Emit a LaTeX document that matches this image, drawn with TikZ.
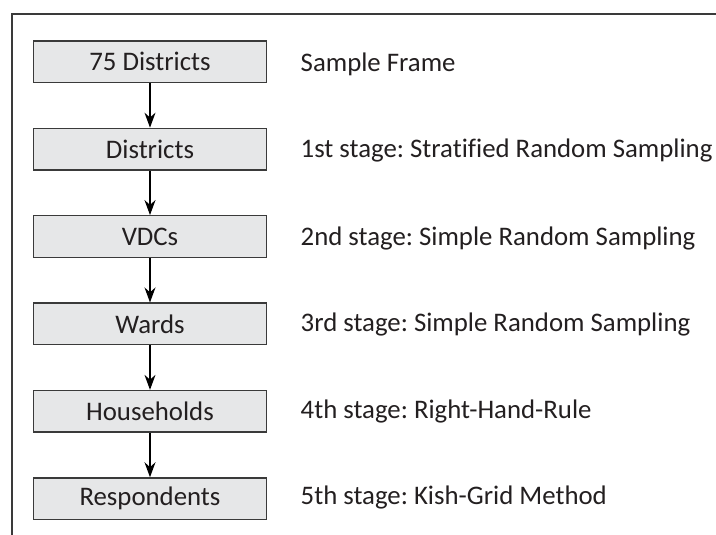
\documentclass[tikz,border=0pt]{standalone}
\usepackage{fontspec}
\setmainfont{Carlito}[Ligatures=NoCommon]
\usetikzlibrary{arrows.meta}
\definecolor{txt}{HTML}{231F20}
\definecolor{boxfill}{HTML}{E6E7E8}
\definecolor{boxline}{HTML}{3A3A3A}
\frenchspacing
\begin{document}
\begin{tikzpicture}[x=1pt,y=-1pt,
  stagebox/.style={draw=boxline, line width=1.4pt, fill=boxfill, minimum width=233pt, minimum height=41.5pt, inner sep=0pt, text=txt, font=\fontsize{26.8}{30}\selectfont},
  stagelabel/.style={anchor=base west, inner sep=0pt, text=txt, font=\fontsize{26.8}{30}\selectfont},
  flow/.style={line width=1.2pt, draw=black, -{Stealth[length=15pt,width=11pt]}}]
\useasboundingbox (0,0) rectangle (716,535);
% frame
\coordinate (fbl) at (12,535);
\coordinate (ftl) at (12,14);
\coordinate (ftr) at (716,14);
\draw[line width=1.4pt, draw=boxline] (fbl) -- (ftl) -- (ftr);
% boxes
\node[stagebox] (b0) at (150,61.7) {75 Districts};
\node[stagebox] (b1) at (150,149.1) {Districts};
\node[stagebox] (b2) at (150,236.5) {VDCs};
\node[stagebox] (b3) at (150,323.9) {Wards};
\node[stagebox] (b4) at (150,411.3) {Households};
\node[stagebox] (b5) at (150,498.7) {Respondents};
% labels
\node[stagelabel] (l0) at (300.5,71.5) {Sample Frame};
\node[stagelabel] (l1) at (300.5,157.5) {1st stage: Stratified Random Sampling};
\node[stagelabel] (l2) at (300.5,245) {2nd stage: Simple Random Sampling};
\node[stagelabel] (l3) at (300.5,331.7) {3rd stage: Simple Random Sampling};
\node[stagelabel] (l4) at (300.5,418.3) {4th stage: Right-Hand-Rule};
\node[stagelabel] (l5) at (300.5,504) {5th stage: Kish-Grid Method};
% arrows
\draw[flow] (b0) -- (b1);
\draw[flow] (b1) -- (b2);
\draw[flow] (b2) -- (b3);
\draw[flow] (b3) -- (b4);
\draw[flow] (b4) -- (b5);
\end{tikzpicture}
\end{document}
